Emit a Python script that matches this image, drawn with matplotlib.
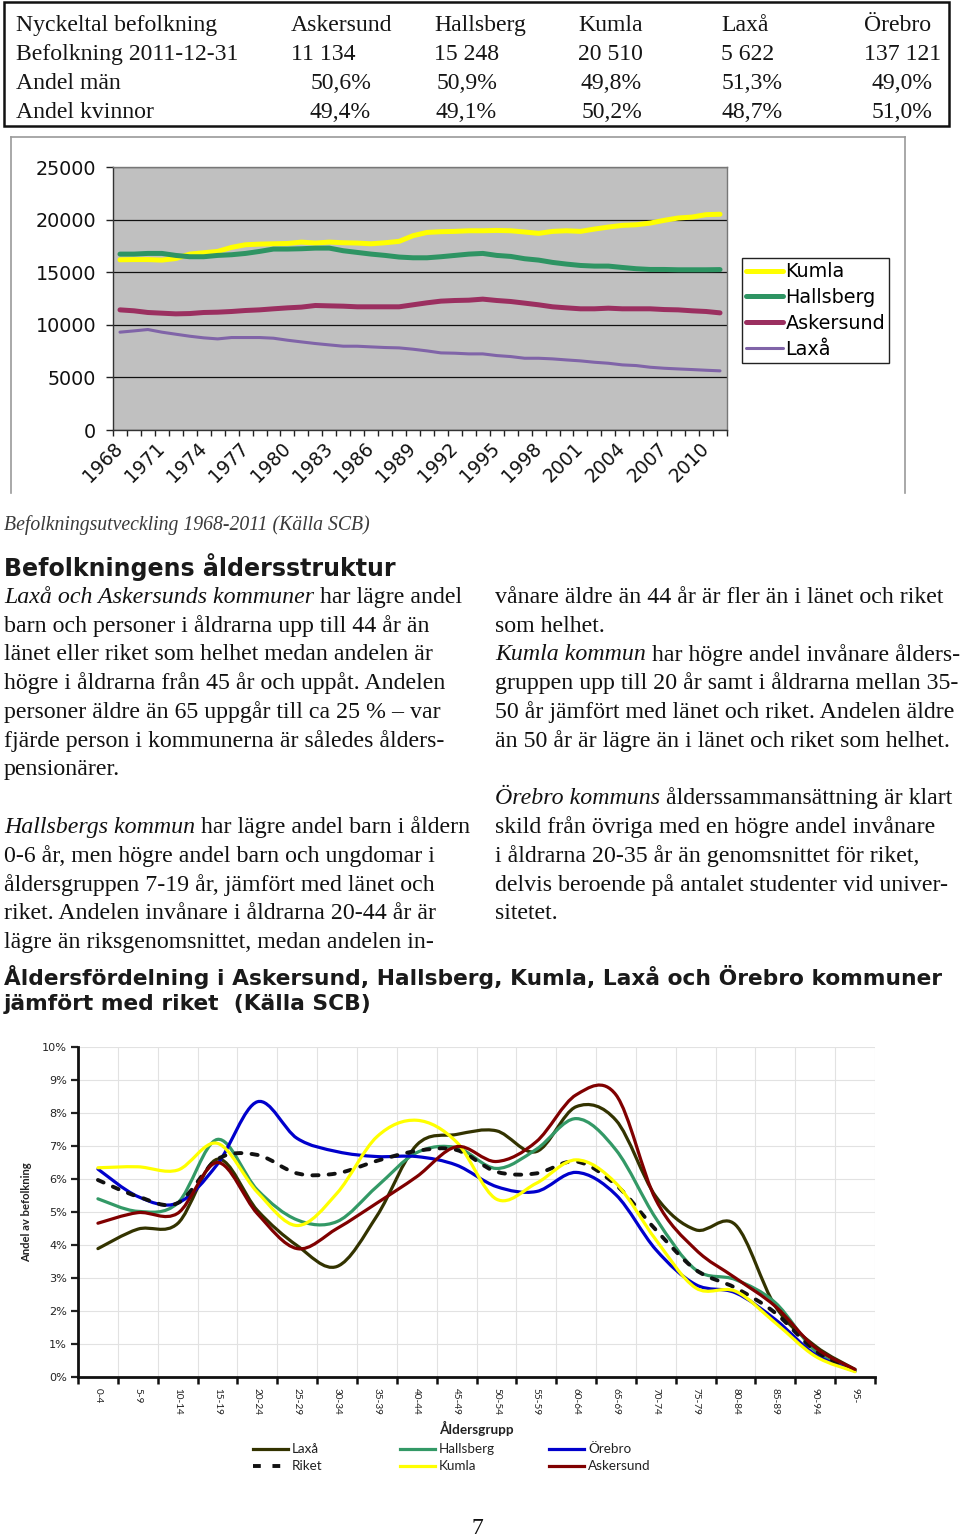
import numpy as np
import matplotlib
matplotlib.use('Agg')
import matplotlib.pyplot as plt
from matplotlib.path import Path
from matplotlib.patches import PathPatch, Rectangle
from matplotlib.lines import Line2D

# ---------------- data ----------------
table_header = ["Nyckeltal befolkning", "Askersund", "Hallsberg", "Kumla", "Laxå", "Örebro"]
table_pop = ["Befolkning 2011-12-31", "11 134", "15 248", "20 510", "5 622", "137 121"]
table_men = ["Andel män", "50,6%", "50,9%", "49,8%", "51,3%", "49,0%"]
table_women = ["Andel kvinnor", "49,4%", "49,1%", "50,2%", "48,7%", "51,0%"]

years = list(range(1968, 2012))
kumla_pop = [16180, 16200, 16200, 16150, 16300, 16720, 16850, 16975, 17360, 17610,
             17670, 17700, 17730, 17860, 17770, 17860, 17800, 17770, 17700, 17800,
             17930, 18470, 18780, 18850, 18880, 18940, 18940, 18970, 18940, 18820,
             18690, 18880, 18940, 18880, 19100, 19290, 19450, 19510, 19670, 19930,
             20150, 20240, 20470, 20510]
hallsberg_pop = [16720, 16720, 16785, 16785, 16595, 16470, 16470, 16595, 16660, 16785,
                 16975, 17200, 17200, 17230, 17290, 17290, 17040, 16880, 16720, 16595,
                 16440, 16370, 16370, 16470, 16595, 16720, 16785, 16595, 16500, 16280,
                 16150, 15930, 15770, 15640, 15580, 15580, 15450, 15330, 15260, 15260,
                 15230, 15230, 15230, 15248]
askersund_pop = [11420, 11330, 11170, 11105, 11040, 11070, 11170, 11200, 11265, 11360,
                 11420, 11520, 11610, 11680, 11835, 11800, 11770, 11710, 11710, 11710,
                 11710, 11900, 12090, 12250, 12310, 12340, 12440, 12310, 12215, 12060,
                 11900, 11710, 11610, 11520, 11520, 11580, 11520, 11520, 11520, 11450,
                 11420, 11330, 11265, 11134]
laxa_pop = [9300, 9420, 9550, 9300, 9105, 8915, 8760, 8660, 8790, 8790,
            8790, 8725, 8535, 8375, 8220, 8090, 7965, 7965, 7900, 7840,
            7805, 7680, 7520, 7330, 7300, 7235, 7235, 7075, 6980, 6820,
            6820, 6760, 6660, 6570, 6440, 6345, 6190, 6125, 5965, 5870,
            5805, 5745, 5680, 5622]

age_groups = ["0-4", "5-9", "10-14", "15-19", "20-24", "25-29", "30-34", "35-39", "40-44",
              "45-49", "50-54", "55-59", "60-64", "65-69", "70-74", "75-79", "80-84",
              "85-89", "90-94", "95-"]
laxa_age = [3.89, 4.48, 4.65, 6.60, 5.05, 3.98, 3.35, 4.88, 7.03, 7.35,
            7.46, 6.83, 8.19, 7.78, 5.47, 4.46, 4.61, 2.14, 0.94, 0.23]
hallsberg_age = [5.40, 5.02, 5.27, 7.20, 5.67, 4.76, 4.71, 5.77, 6.80, 6.95,
                 6.32, 6.90, 7.83, 6.88, 4.81, 3.25, 2.95, 2.25, 0.79, 0.18]
orebro_age = [6.30, 5.47, 5.27, 6.45, 8.34, 7.23, 6.83, 6.68, 6.68, 6.42,
              5.77, 5.62, 6.20, 5.52, 3.86, 2.80, 2.55, 1.74, 0.68, 0.18]
riket_age = [5.97, 5.47, 5.27, 6.60, 6.73, 6.17, 6.17, 6.55, 6.85, 6.88,
             6.22, 6.17, 6.53, 5.82, 4.46, 3.25, 2.70, 1.94, 0.80, 0.20]
kumla_age = [6.34, 6.37, 6.27, 7.08, 5.60, 4.59, 5.57, 7.28, 7.78, 7.12,
             5.39, 5.87, 6.58, 5.87, 4.16, 2.70, 2.60, 1.64, 0.63, 0.16]
askersund_age = [4.66, 4.98, 4.96, 6.50, 4.95, 3.89, 4.50, 5.27, 6.07, 6.98,
                 6.53, 7.13, 8.55, 8.55, 5.37, 3.86, 3.00, 2.14, 0.89, 0.23]

# ---------------- figure helpers ----------------
W, H = 960, 1537
fig = plt.figure(figsize=(W / 100, H / 100), dpi=100)
renderer = fig.canvas.get_renderer()

SERIF = 'Liberation Serif'
SANS = 'DejaVu Sans'
HUM = 'Lato'


def fx(x):
    return x / W


def fy(y):
    return 1 - y / H


def rect(l, t, r, b):
    return [l / W, 1 - b / H, (r - l) / W, (b - t) / H]


def measure(s, size, family, style='normal', weight='normal'):
    t = fig.text(0, 0, '|' + s + '|', fontsize=size, family=family, style=style, weight=weight)
    w1 = t.get_window_extent(renderer).width
    t.set_text('||')
    w0 = t.get_window_extent(renderer).width
    t.remove()
    return w1 - w0


def fit(s, target, family, **kw):
    return 10 * target / measure(s, 10, family, **kw)


def put_line(x, y, segs, size, color='#111111'):
    for s, it in segs:
        st = 'italic' if it else 'normal'
        lead = len(s) - len(s.lstrip())
        off = measure(' ' * lead, size, SERIF, style=st) if lead else 0
        fig.text(fx(x + off), fy(y), s.strip(), fontsize=size, family=SERIF, style=st,
                 va='baseline', ha='left', color=color)
        x += measure(s, size, SERIF, style=st)


# ---------------- table ----------------
tsize = fit("Nyckeltal befolkning", 202, SERIF)
fig.add_artist(Rectangle((fx(4), fy(126)), (949 - 4) / W, (126 - 2) / H, transform=fig.transFigure,
                         fill=False, edgecolor='#111111', lw=1.8))
left_cols = [16, 291, 434, 578, 721, 864]
right_cols = [None, 371, 497, 642, 783, 932]
for row, base in [(table_header, 31), (table_pop, 60)]:
    for j, s in enumerate(row):
        fig.text(fx(left_cols[j]), fy(base), s, fontsize=tsize, family=SERIF, va='baseline',
                 ha='left', color='#151515')
for row, base in [(table_men, 89), (table_women, 118)]:
    for j, s in enumerate(row):
        if j == 0:
            fig.text(fx(left_cols[0]), fy(base), s, fontsize=tsize, family=SERIF, va='baseline',
                     ha='left', color='#151515')
        else:
            fig.text(fx(right_cols[j]), fy(base), s, fontsize=tsize, family=SERIF, va='baseline',
                     ha='right', color='#151515')

# ---------------- chart 1 ----------------
frame_col = '#9a9a9a'
fig.add_artist(Line2D([fx(11), fx(11)], [fy(137), fy(493)], transform=fig.transFigure, color=frame_col, lw=1.2))
fig.add_artist(Line2D([fx(11), fx(905)], [fy(137), fy(137)], transform=fig.transFigure, color=frame_col, lw=1.2))
fig.add_artist(Line2D([fx(905), fx(905)], [fy(137), fy(493)], transform=fig.transFigure, color=frame_col, lw=1.2))

ax1 = fig.add_axes(rect(113, 167, 727, 430))
ax1.set_facecolor('#C0C0C0')
xi = np.arange(len(years))
l_k, = ax1.plot(xi, kumla_pop, color='#FFFF00', lw=3.6, solid_capstyle='round', label='Kumla')
l_h, = ax1.plot(xi, hallsberg_pop, color='#2E9463', lw=3.6, solid_capstyle='round', label='Hallsberg')
l_a, = ax1.plot(xi, askersund_pop, color='#9B2F60', lw=3.6, solid_capstyle='round', label='Askersund')
l_l, = ax1.plot(xi, laxa_pop, color='#8064A8', lw=2.2, solid_capstyle='round', label='Laxå')
ax1.set_xlim(-0.5, len(years) - 0.5)
ax1.set_ylim(0, 25000)
ax1.set_yticks(range(0, 25001, 5000))
ax1.grid(axis='y', color='#111111', lw=0.9)
ax1.set_axisbelow(True)
ax1.set_xticks(xi[::3])
ax1.set_xticklabels([str(y) for y in years[::3]], rotation=45, ha='right', va='center',
                    rotation_mode='anchor')
ax1.set_xticks(np.arange(-0.5, len(years)), minor=True)
ax1.tick_params(axis='x', which='major', length=0, pad=11, labelsize=13.5)
ax1.tick_params(axis='x', which='minor', length=4, width=1, color='#222222', direction='out')
ax1.tick_params(axis='y', length=5, width=1, color='#222222', pad=7, labelsize=13.8)
for lab in ax1.get_xticklabels() + ax1.get_yticklabels():
    lab.set_family(SANS)
    lab.set_color('#111111')
for sp in ['left', 'bottom']:
    ax1.spines[sp].set_color('#333333')
    ax1.spines[sp].set_linewidth(1.0)
for sp in ['top', 'right']:
    ax1.spines[sp].set_color('#777777')
    ax1.spines[sp].set_linewidth(1.0)
leg1 = ax1.legend(handles=[l_k, l_h, l_a, l_l], loc='upper left',
                  bbox_to_anchor=(fx(742), fy(258)), bbox_transform=fig.transFigure,
                  frameon=True, fancybox=False, framealpha=1, edgecolor='#222222',
                  prop={'family': SANS, 'size': 13.8}, handlelength=1.9, handletextpad=0.15,
                  labelspacing=0.36, borderpad=0.22, borderaxespad=0)
leg1.get_frame().set_linewidth(1.0)

# ---------------- caption & text ----------------
csize = fit("Befolkningsutveckling 1968-2011 (Källa SCB)", 367, SERIF, style='italic')
fig.text(fx(4), fy(530), "Befolkningsutveckling 1968-2011 (Källa SCB)", fontsize=csize,
         family=SERIF, style='italic', va='baseline', ha='left', color='#3a3a3a')

h1size = fit("Befolkningens åldersstruktur", 391, SANS, weight='bold')
fig.text(fx(4), fy(576), "Befolkningens åldersstruktur", fontsize=h1size, family=SANS,
         weight='bold', va='baseline', ha='left', color='#1a1a1a')

bsize = fit("barn och personer i åldrarna upp till 44 år än", 426, SERIF)
left_lines = [
    [("Laxå och Askersunds kommuner", True), (" har lägre andel", False)],
    [("barn och personer i åldrarna upp till 44 år än", False)],
    [("länet eller riket som helhet medan andelen är", False)],
    [("högre i åldrarna från 45 år och uppåt. Andelen", False)],
    [("personer äldre än 65 uppgår till ca 25 % – var", False)],
    [("fjärde person i kommunerna är således ålders-", False)],
    [("pensionärer.", False)],
    None,
    [("Hallsbergs kommun", True), (" har lägre andel barn i åldern", False)],
    [("0-6 år, men högre andel barn och ungdomar i", False)],
    [("åldersgruppen 7-19 år, jämfört med länet och", False)],
    [("riket. Andelen invånare i åldrarna 20-44 år är", False)],
    [("lägre än riksgenomsnittet, medan andelen in-", False)],
]
right_lines = [
    [("vånare äldre än 44 år är fler än i länet och riket", False)],
    [("som helhet.", False)],
    [("Kumla kommun", True), (" har högre andel invånare ålders-", False)],
    [("gruppen upp till 20 år samt i åldrarna mellan 35-", False)],
    [("50 år jämfört med länet och riket. Andelen äldre", False)],
    [("än 50 år är lägre än i länet och riket som helhet.", False)],
    None,
    [("Örebro kommuns", True), (" ålderssammansättning är klart", False)],
    [("skild från övriga med en högre andel invånare", False)],
    [("i åldrarna 20-35 år än genomsnittet för riket,", False)],
    [("delvis beroende på antalet studenter vid univer-", False)],
    [("sitetet.", False)],
]
for k, segs in enumerate(left_lines):
    if segs:
        put_line(4, 603 + 28.75 * k, segs, bsize)
for k, segs in enumerate(right_lines):
    if segs:
        put_line(495, 603 + 28.75 * k, segs, bsize)

h2a = "Åldersfördelning i Askersund, Hallsberg, Kumla, Laxå och Örebro kommuner"
h2size = fit(h2a, 938, SANS, weight='bold')
fig.text(fx(4), fy(985), h2a, fontsize=h2size, family=SANS, weight='bold', va='baseline',
         ha='left', color='#1a1a1a')
fig.text(fx(4), fy(1010), "jämfört med riket  (Källa SCB)", fontsize=h2size, family=SANS,
         weight='bold', va='baseline', ha='left', color='#1a1a1a')

# ---------------- chart 2 ----------------
ax2 = fig.add_axes(rect(78, 1047, 875, 1377))
ax2.set_xlim(0, len(age_groups))
ax2.set_ylim(0, 10)
xc = np.arange(len(age_groups)) + 0.5


def smooth_path(xs, ys):
    pts = np.column_stack([xs, ys]).astype(float)
    n = len(pts)
    verts = [pts[0]]
    codes = [Path.MOVETO]
    for i in range(n - 1):
        p0 = pts[i - 1] if i > 0 else pts[i]
        p1 = pts[i]
        p2 = pts[i + 1]
        p3 = pts[i + 2] if i + 2 < n else pts[i + 1]
        verts += [p1 + (p2 - p0) / 6.0, p2 - (p3 - p1) / 6.0, p2]
        codes += [Path.CURVE4] * 3
    return Path(np.array(verts), codes)


series2 = [
    ("Laxå", laxa_age, dict(color='#333300', lw=2.3, linestyle='-')),
    ("Hallsberg", hallsberg_age, dict(color='#339966', lw=2.3, linestyle='-')),
    ("Örebro", orebro_age, dict(color='#0000CC', lw=2.3, linestyle='-')),
    ("Riket", riket_age, dict(color='#111111', lw=2.8, linestyle=(0, (1.6, 2.6)))),
    ("Kumla", kumla_age, dict(color='#FFFF00', lw=2.3, linestyle='-')),
    ("Askersund", askersund_age, dict(color='#800000', lw=2.3, linestyle='-')),
]
for z, (name, vals, st) in enumerate(series2):
    pp = PathPatch(smooth_path(xc, vals), fill=False, edgecolor=st['color'], lw=st['lw'],
                   linestyle=st['linestyle'], capstyle='round', joinstyle='round', zorder=3 + z)
    ax2.add_patch(pp)

ax2.set_yticks(range(0, 11))
ax2.set_yticklabels([f"{v}%" for v in range(0, 11)])
ax2.set_xticks(np.arange(0, len(age_groups) + 1))
ax2.set_xticklabels([])
ax2.set_xticks(xc, minor=True)
ax2.set_xticklabels(age_groups, minor=True, rotation=-90, ha='center', va='top')
ax2.grid(which='major', color='#e2e2e2', lw=0.8)
ax2.set_axisbelow(True)
ytsize = fit("10%", 25, SANS)
xtsize = fit("20-24", 27, HUM)
ax2.tick_params(axis='y', length=5, width=1.6, pad=3, labelsize=ytsize, colors='#222222')
ax2.tick_params(axis='x', which='major', length=5, width=1.8, color='#111111')
ax2.tick_params(axis='x', which='minor', length=0, pad=8, labelsize=xtsize, labelcolor='#222222')
for lab in ax2.get_yticklabels():
    lab.set_family(SANS)
for lab in ax2.get_xticklabels(minor=True):
    lab.set_family(HUM)
for sp in ['top', 'right']:
    ax2.spines[sp].set_visible(False)
for sp in ['left', 'bottom']:
    ax2.spines[sp].set_linewidth(2.0)
    ax2.spines[sp].set_color('#111111')

ylsize = fit("Andel av befolkning", 100, HUM, weight='bold')
fig.text(fx(27), fy(1212), "Andel av befolkning", rotation=90, ha='center', va='center',
         fontsize=ylsize, family=HUM, weight='bold', color='#222222')
xlsize = fit("Åldersgrupp", 75, HUM, weight='bold')
fig.text(fx(476), fy(1428), "Åldersgrupp", ha='center', va='center', fontsize=xlsize,
         family=HUM, weight='bold', color='#222222')

# legend (manual layout, styles from series2)
legsize = fit("Hallsberg", 56, HUM)
leg_pos = {"Laxå": (253, 1449), "Riket": (253, 1466), "Hallsberg": (400, 1449),
           "Kumla": (400, 1466), "Örebro": (549, 1449), "Askersund": (549, 1466)}
for name, vals, st in series2:
    x0, y0 = leg_pos[name]
    ls = (0, (2.0, 3.0)) if name == "Riket" else '-'
    fig.add_artist(Line2D([fx(x0), fx(x0 + 35)], [fy(y0), fy(y0)], transform=fig.transFigure,
                          color=st['color'], lw=st['lw'], linestyle=ls))
    fig.text(fx(x0 + 39), fy(y0), name, ha='left', va='center', fontsize=legsize, family=HUM,
             color='#222222')

# page number
fig.text(fx(477), fy(1534), "7", ha='center', va='baseline', fontsize=17, family=SERIF,
         color='#111111')

fig.savefig('out.png', dpi=100)
